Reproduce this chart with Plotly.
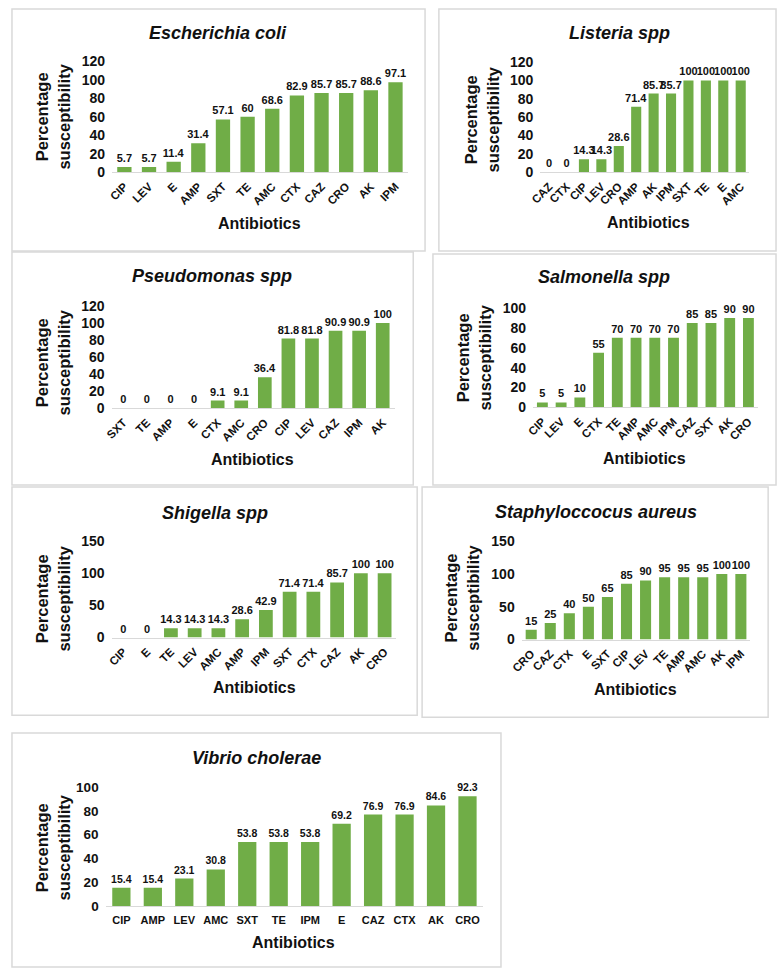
import plotly.graph_objects as go

# ---------------- data ----------------
titles = ["Escherichia coli", "Listeria spp", "Pseudomonas spp", "Salmonella spp",
          "Shigella spp", "Staphyloccocus aureus", "Vibrio cholerae"]

ecoli_cats = ["CIP", "LEV", "E", "AMP", "SXT", "TE", "AMC", "CTX", "CAZ", "CRO", "AK", "IPM"]
ecoli_vals = [5.7, 5.7, 11.4, 31.4, 57.1, 60, 68.6, 82.9, 85.7, 85.7, 88.6, 97.1]

listeria_cats = ["CAZ", "CTX", "CIP", "LEV", "CRO", "AMP", "AK", "IPM", "SXT", "TE", "E", "AMC"]
listeria_vals = [0, 0, 14.3, 14.3, 28.6, 71.4, 85.7, 85.7, 100, 100, 100, 100]

pseudo_cats = ["SXT", "TE", "AMP", "E", "CTX", "AMC", "CRO", "CIP", "LEV", "CAZ", "IPM", "AK"]
pseudo_vals = [0, 0, 0, 0, 9.1, 9.1, 36.4, 81.8, 81.8, 90.9, 90.9, 100]

salm_cats = ["CIP", "LEV", "E", "CTX", "TE", "AMP", "AMC", "IPM", "CAZ", "SXT", "AK", "CRO"]
salm_vals = [5, 5, 10, 55, 70, 70, 70, 70, 85, 85, 90, 90]

shig_cats = ["CIP", "E", "TE", "LEV", "AMC", "AMP", "IPM", "SXT", "CTX", "CAZ", "AK", "CRO"]
shig_vals = [0, 0, 14.3, 14.3, 14.3, 28.6, 42.9, 71.4, 71.4, 85.7, 100, 100]

staph_cats = ["CRO", "CAZ", "CTX", "E", "SXT", "CIP", "LEV", "TE", "AMP", "AMC", "AK", "IPM"]
staph_vals = [15, 25, 40, 50, 65, 85, 90, 95, 95, 95, 100, 100]

vibrio_cats = ["CIP", "AMP", "LEV", "AMC", "SXT", "TE", "IPM", "E", "CAZ", "CTX", "AK", "CRO"]
vibrio_vals = [15.4, 15.4, 23.1, 30.8, 53.8, 53.8, 53.8, 69.2, 76.9, 76.9, 84.6, 92.3]

y_ranges = [[0, 120], [0, 120], [0, 120], [0, 100], [0, 150], [0, 150], [0, 100]]
y_dticks = [20, 20, 20, 20, 50, 50, 20]
x_title = "Antibiotics"
y_title = "Percentage<br>susceptibility"

cats_list = [ecoli_cats, listeria_cats, pseudo_cats, salm_cats, shig_cats, staph_cats, vibrio_cats]
vals_list = [ecoli_vals, listeria_vals, pseudo_vals, salm_vals, shig_vals, staph_vals, vibrio_vals]

# ---------------- layout (pixel geometry) ----------------
W, H = 778, 979
def px(x): return x / W
def py(y): return 1 - y / H

panels = [
    dict(xd=(102.5, 402.5), yd=(167, 54), t=(210, 25), xt=(252, 219), yt=(42, 110), box=(1, 1, 420, 247), ang=-45),
    dict(xd=(537, 749), yd=(167, 55), t=(617, 25), xt=(647, 218), yt=(477, 113), box=(434, 1, 776, 247), ang=-45),
    dict(xd=(102, 389), yd=(407, 303), t=(204, 272), xt=(245, 459), yt=(42, 360), box=(1, 248, 408, 485), ang=-45),
    dict(xd=(529.5, 757.5), yd=(406, 305), t=(602, 273), xt=(643, 458), yt=(469, 355), box=(428, 250, 776, 485), ang=-45),
    dict(xd=(102, 391), yd=(640, 542), t=(207, 513), xt=(247, 691), yt=(42, 600), box=(1, 487, 412, 719), ang=-45),
    dict(xd=(518, 750), yd=(642, 542), t=(593, 512), xt=(633, 693), yt=(457, 600), box=(417, 487, 768, 721), ang=-45),
    dict(xd=(96, 479), yd=(913, 792), t=(249, 762), xt=(287, 950), yt=(42, 853), box=(1, 737, 497, 975), ang=0),
]

FONT = "Liberation Sans, Arial, sans-serif"
GREEN = "#70AD47"
TXT = "#111111"

fig = go.Figure()
annotations = []
shapes = []
layout_axes = {}

for i, (cats, vals, p) in enumerate(zip(cats_list, vals_list, panels)):
    n = i + 1
    xa = "x" if n == 1 else f"x{n}"
    ya = "y" if n == 1 else f"y{n}"
    fig.add_trace(go.Bar(
        x=cats, y=vals, xaxis=xa, yaxis=ya,
        marker=dict(color=GREEN, line=dict(width=0)),
        text=[f"{v:g}" for v in vals], textposition="outside",
        textfont=dict(family=FONT, size=11 if n != 7 else 10.5, color=TXT),
        texttemplate="<b>%{text}</b>",
        constraintext="none", cliponaxis=False, showlegend=False,
        hoverinfo="x+y",
    ))
    xkey = "xaxis" if n == 1 else f"xaxis{n}"
    ykey = "yaxis" if n == 1 else f"yaxis{n}"
    layout_axes[xkey] = dict(
        domain=[px(p["xd"][0]), px(p["xd"][1])], anchor=ya,
        type="category", range=[-0.5, len(cats) - 0.5],
        showline=True, linecolor="#D9D9D9", linewidth=1.3,
        ticks="", showgrid=False, zeroline=False,
        tickangle=p["ang"], ticklabelstandoff=2 if p["ang"] else 4,
        tickfont=dict(family=FONT, size=11.5 if p["ang"] else 11, color=TXT, weight="bold"),
    )
    layout_axes[ykey] = dict(
        domain=[py(p["yd"][0]), py(p["yd"][1])], anchor=xa,
        range=y_ranges[i], dtick=y_dticks[i], tick0=0,
        showline=False, showgrid=False, zeroline=False, ticks="",
        ticklabelstandoff=6,
        tickfont=dict(family=FONT, size=14 if n != 7 else 13.5, color=TXT, weight="bold"),
    )
    # chart title
    annotations.append(dict(
        text=f"<b><i>{titles[i]}</i></b>", x=px(p["t"][0]), y=py(p["t"][1]),
        xref="paper", yref="paper", showarrow=False, xanchor="center", yanchor="middle",
        font=dict(family=FONT, size=18, color=TXT)))
    # x axis title
    annotations.append(dict(
        text=f"<b>{x_title}</b>", x=px(p["xt"][0]), y=py(p["xt"][1]),
        xref="paper", yref="paper", showarrow=False, xanchor="center", yanchor="middle",
        font=dict(family=FONT, size=16, color=TXT)))
    # y axis title
    annotations.append(dict(
        text=f"<b>{y_title}</b>", x=px(p["yt"][0]), y=py(p["yt"][1]),
        xref="paper", yref="paper", showarrow=False, xanchor="center", yanchor="middle",
        textangle=-90, font=dict(family=FONT, size=16.5, color=TXT)))
    # panel frame
    b = p["box"]
    shapes.append(dict(type="rect", xref="paper", yref="paper",
                       x0=px(b[0]), x1=px(b[2]), y0=py(b[3]), y1=py(b[1]),
                       line=dict(color="#D9D9D9", width=1.5), fillcolor="rgba(0,0,0,0)", layer="below"))

fig.update_layout(
    width=W, height=H, autosize=False,
    margin=dict(l=0, r=0, t=0, b=0),
    paper_bgcolor="white", plot_bgcolor="white",
    bargap=0.42,
    annotations=annotations, shapes=shapes,
    font=dict(family=FONT, color=TXT),
    **layout_axes,
)

post = ("document.documentElement.style.margin='0';"
        "document.body.style.margin='0';document.body.style.overflow='hidden';"
        "var gd=document.getElementById('{plot_id}');"
        "gd.style.position='fixed';gd.style.left='0px';gd.style.top='0px';")

fig.write_html("out.html", config={"displayModeBar": False}, post_script=post)
